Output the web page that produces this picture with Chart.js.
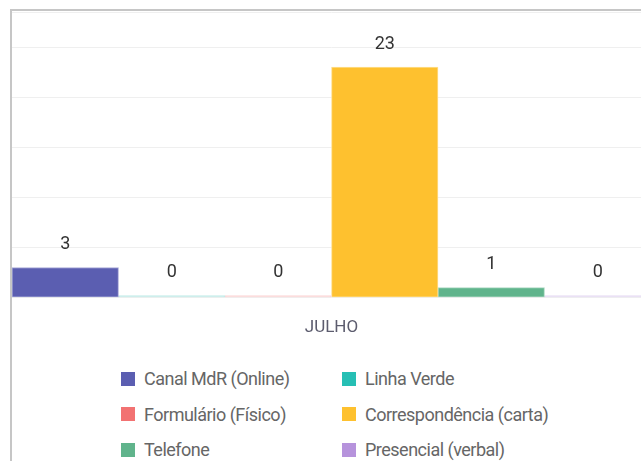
<!DOCTYPE html>
<html lang="pt">
<head>
<meta charset="utf-8">
<script src="https://cdn.jsdelivr.net/npm/chart.js@4/dist/chart.umd.min.js"></script>
<style>
  html, body { margin: 0; padding: 0; background: #fff; }
  body { width: 641px; height: 461px; overflow: hidden; position: relative;
         font-family: "Roboto", sans-serif; }
  #moldura { position: absolute; left: 10px; top: 9px; width: 700px; height: 520px;
             border-left: 2px solid #c6c6c6; border-top: 2px solid #c6c6c6; }
  #grafico-box { position: absolute; left: 0; top: 1px; width: 639px; height: 346px; }
  #legenda { position: absolute; left: 109px; top: 350px; display: grid;
             grid-template-columns: 221px 260px; row-gap: 0; }
  .item-legenda { display: flex; align-items: center; height: 35.5px;
                  font-size: 18px; letter-spacing: -0.5px; color: #666; }
  .caixa { width: 14px; height: 14px; margin-right: 9px; box-sizing: border-box; }
</style>
</head>
<body>
<div id="moldura">
  <div id="grafico-box"><canvas id="myChart"></canvas></div>
  <div id="legenda"></div>
</div>
<script>
const categorias = ["JULHO"];

const canais = [
    "Canal MdR (Online)", "Linha Verde",
    "Formulário (Físico)", "Correspondência (carta)",
    "Telefone", "Presencial (verbal)"
];

const valores = [3, 0, 0, 23, 1, 0];

const cores = [
    "#5b5eb1", "#26bfb4", "#f27272", "#fec12f", "#60b48c", "#b693dc"
];

const coresBorda = [
    "#a9abd9", "#c3ebe8", "#fbd6d6", "#fedf92", "#acd9c3", "#e6dbf3"
];

const fonte = '"Roboto", sans-serif';

// rotulos em cima de cada barra
const rotulosBarras = {
    id: "rotulosBarras",
    afterDatasetsDraw(chart) {
        const c = chart.ctx;
        c.save();
        c.font = "18px " + fonte;
        c.fillStyle = "#333";
        c.textAlign = "center";
        c.textBaseline = "middle";
        chart.data.datasets.forEach((ds, i) => {
            const meta = chart.getDatasetMeta(i);
            meta.data.forEach((barra, j) => {
                c.fillText(String(ds.data[j]), barra.x, barra.y - 23);
            });
        });
        c.restore();
    }
};

// barras com valor zero aparecem so como uma linha clara
const datasets = canais.map((nome, i) => ({
    label: nome,
    data: [valores[i]],
    backgroundColor: ctx => ctx.raw === 0 ? coresBorda[i] : cores[i],
    borderColor: coresBorda[i],
    borderWidth: 1,
    borderSkipped: false,
    minBarLength: 2,
    barPercentage: 1,
    categoryPercentage: 1
}));

new Chart(document.getElementById("myChart"), {
    type: "bar",
    data: { labels: categorias, datasets: datasets },
    plugins: [rotulosBarras],
    options: {
        responsive: true,
        maintainAspectRatio: false,
        animation: false,
        layout: { padding: 0 },
        plugins: {
            legend: { display: false },
            tooltip: { enabled: false }
        },
        scales: {
            x: {
                grid: { display: false, drawTicks: false },
                border: { display: false },
                ticks: { color: "#5c5c6e", padding: 20, font: { family: fonte, size: 17 } }
            },
            y: {
                min: 0,
                max: 28.5,
                grid: { color: "#efefef", drawTicks: false },
                border: { display: false },
                ticks: { display: false, stepSize: 5 }
            }
        }
    }
});

// legenda em duas colunas
const legenda = document.getElementById("legenda");
canais.forEach((nome, i) => {
    const item = document.createElement("div");
    item.className = "item-legenda";
    const caixa = document.createElement("span");
    caixa.className = "caixa";
    caixa.style.background = cores[i];
    const texto = document.createElement("span");
    texto.textContent = nome;
    item.appendChild(caixa);
    item.appendChild(texto);
    legenda.appendChild(item);
});
</script>
</body>
</html>
